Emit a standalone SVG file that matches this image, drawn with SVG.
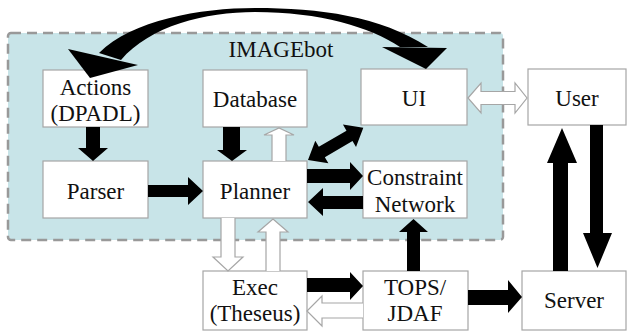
<svg xmlns="http://www.w3.org/2000/svg" width="627" height="331" viewBox="0 0 627 331">
<style>
.box{fill:#ffffff;stroke:#a6a6a6;stroke-width:1.2}
.t{font-family:'Liberation Serif','DejaVu Serif',serif;font-size:23px;fill:#111;text-anchor:middle}
.blk{fill:#000}
.wht{fill:#fff;stroke:#a6a6a6;stroke-width:1.2}
</style>
<rect width="627" height="331" fill="#fff"/>
<g id="imagebot">
<rect x="8" y="33" width="495" height="207" rx="3" fill="#c8e4e8" stroke="#999" stroke-width="2.5" stroke-dasharray="10,6"/>
<text class="t" x="281" y="57" font-family="Liberation Serif, serif">IMAGEbot</text>
</g>
<g id="actions"><rect class="box" x="43" y="70" width="105" height="57"/><text class="t" x="95.5" y="95">Actions</text><text class="t" x="95.5" y="121">(DPADL)</text></g>
<g id="database"><rect class="box" x="203" y="70" width="104" height="57"/><text class="t" x="255" y="107">Database</text></g>
<g id="ui"><rect class="box" x="361" y="69" width="106" height="56"/><text class="t" x="414" y="106">UI</text></g>
<g id="user"><rect class="box" x="528" y="69" width="98" height="56"/><text class="t" x="577" y="106">User</text></g>
<g id="parser"><rect class="box" x="43" y="161" width="105" height="57"/><text class="t" x="95.5" y="199">Parser</text></g>
<g id="planner"><rect class="box" x="203" y="161" width="104" height="57"/><text class="t" x="255" y="199">Planner</text></g>
<g id="constraint"><rect class="box" x="363" y="161" width="104" height="57"/><text class="t" x="415" y="185">Constraint</text><text class="t" x="415" y="212">Network</text></g>
<g id="exec"><rect class="box" x="203" y="271" width="104" height="59"/><text class="t" x="255" y="295">Exec</text><text class="t" x="255" y="321">(Theseus)</text></g>
<g id="tops"><rect class="box" x="363" y="271" width="105" height="59"/><text class="t" x="415" y="295">TOPS/</text><text class="t" x="415" y="321">JDAF</text></g>
<g id="server"><rect class="box" x="522" y="271" width="104" height="59"/><text class="t" x="574" y="308">Server</text></g>
<g id="connectors">
<path class="blk" d="M99,53 C132,20 200,8 255,8 C320,8 380,16 428,47 L400,47 C370,27 320,12 255,12 C205,12 150,26 121,60 Z"/>
<path class="blk" d="M68,49 L138,65 L90,78 Z"/>
<path class="blk" d="M382,47 L447,48 L426,69 Z"/>
<path class="blk" d="M86,127 H100 V148 H108 L93,161 L78,148 H86 Z"/>
<path class="blk" d="M223,127 H240 V150 H247 L232,161 L217,150 H223 Z"/>
<path class="wht" d="M272,161 V135 H264 L279,128 L294,135 H286 V161"/>
<path class="blk" d="M148,185 H188 V177 L203,191 L188,205 V197 H148 Z"/>
<path class="blk" transform="translate(308,160) rotate(-30.2)" d="M0,0 L16,-13 L16,-6 L48,-6 L48,-13 L64,0 L48,13 L48,6 L16,6 L16,13 Z"/>
<path class="blk" d="M307,169 H350 V162 L363,176 L350,190 V183 H307 Z"/>
<path class="blk" d="M363,196 H323 V188 L308,202 L323,216 V209 H363 Z"/>
<path class="wht" d="M221,218 V257 H213 L228,271 L243,257 H235 V218"/>
<path class="wht" d="M266,271 V232 H258 L273,219 L288,232 H280 V271"/>
<path class="blk" d="M307,278 H350 V272 L363,286 L350,300 V292 H307 Z"/>
<path class="wht" d="M363,303 H322 V296 L307,311 L322,326 V318 H363"/>
<path class="blk" d="M407,271 V232 H399 L413.5,219 L428,232 H420 V271 Z"/>
<path class="blk" d="M468,290 H508 V280 L522,297 L508,313 V305 H468 Z"/>
<path class="blk" d="M553,271 V163 H547 L562,128 L577,163 H568 V271 Z"/>
<path class="blk" d="M590,125 V233 H583 L597.5,268 L612,233 H603 V125 Z"/>
<path class="wht" d="M468,98 L481,83 V91.5 H515 V83 L527,98 L515,113 V104.5 H481 V113 Z"/>
</g>
</svg>
